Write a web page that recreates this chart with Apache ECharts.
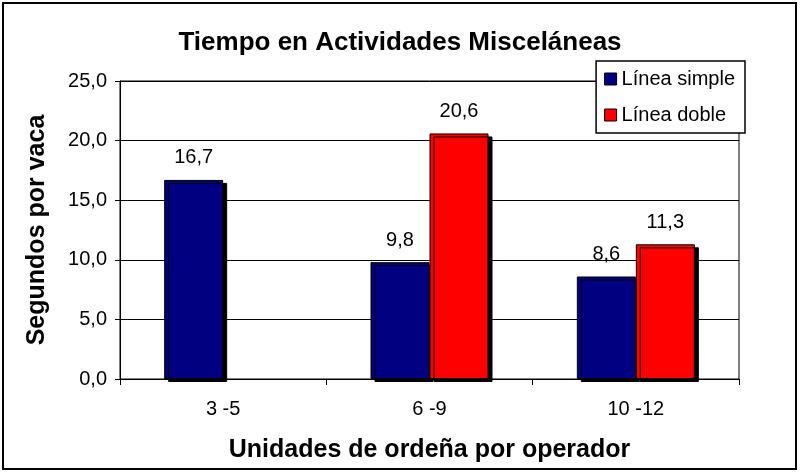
<!DOCTYPE html>
<html>
<head>
<meta charset="utf-8">
<script src="https://cdn.jsdelivr.net/npm/echarts@6/dist/echarts.min.js"></script>
<style>
  html, body { margin: 0; padding: 0; background: #fff; }
  #main { width: 800px; height: 474px; }
</style>
</head>
<body>
<div id="main"></div>
<script type="text/javascript">
// datos del grafico
var categorias = ['3 -5', '6 -9', '10 -12'];
var lineaSimple = [16.7, 9.8, 8.6];
var lineaDoble = [null, 20.6, 11.3];
var nombresSeries = ['Línea simple', 'Línea doble'];
var yTicks = { min: 0, max: 25, interval: 5 };

var fuente = 'Liberation Sans, Arial, sans-serif';

function coma(v) {
  return Number(v).toFixed(1).replace('.', ',');
}

function serieBarra(nombre, datos, color) {
  return {
    name: nombre,
    type: 'bar',
    data: datos,
    barWidth: 59,
    barGap: '0%',
    itemStyle: {
      color: color,
      borderColor: '#000',
      borderWidth: 1,
      shadowColor: '#000',
      shadowBlur: 0,
      shadowOffsetX: 4,
      shadowOffsetY: 3
    },
    label: {
      show: true,
      position: 'top',
      distance: 12,
      color: '#000',
      fontFamily: fuente,
      fontSize: 20,
      formatter: function (p) { return coma(p.value); }
    }
  };
}

var chart = echarts.init(document.getElementById('main'));

var option = {
  backgroundColor: '#fff',
  animation: false,
  title: {
    text: 'Tiempo en Actividades Misceláneas',
    left: 'center',
    top: 25,
    textStyle: { fontFamily: fuente, fontSize: 26, fontWeight: 'bold', color: '#000' }
  },
  legend: {
    orient: 'vertical',
    right: 55,
    top: 61,
    data: nombresSeries,
    backgroundColor: '#fff',
    borderColor: '#000',
    borderWidth: 1.5,
    borderRadius: 0,
    padding: [8, 10, 8, 8],
    itemWidth: 12,
    itemHeight: 12,
    itemGap: 16,
    icon: 'rect',
    itemStyle: { borderColor: '#000', borderWidth: 1, shadowBlur: 0, shadowOffsetX: 0, shadowOffsetY: 0 },
    textStyle: { fontFamily: fuente, fontSize: 20, color: '#000', lineHeight: 20 }
  },
  grid: {
    left: 120,
    right: 61,
    top: 81,
    bottom: 95,
    show: true,
    backgroundColor: '#fff',
    borderColor: '#000',
    borderWidth: 1
  },
  xAxis: {
    type: 'category',
    data: categorias,
    name: 'Unidades de ordeña por operador',
    nameLocation: 'middle',
    nameGap: 59,
    nameTextStyle: { fontFamily: fuente, fontSize: 25, fontWeight: 'bold', color: '#000' },
    axisLine: { lineStyle: { color: '#000', width: 1 } },
    axisTick: { show: true, length: 6, lineStyle: { color: '#000' } },
    axisLabel: { margin: 20, color: '#000', fontFamily: fuente, fontSize: 20 }
  },
  yAxis: {
    type: 'value',
    min: yTicks.min,
    max: yTicks.max,
    interval: yTicks.interval,
    name: 'Segundos por vaca',
    nameLocation: 'middle',
    nameGap: 70,
    nameTextStyle: { fontFamily: fuente, fontSize: 25, fontWeight: 'bold', color: '#000' },
    axisLine: { show: true, lineStyle: { color: '#000', width: 1 } },
    axisTick: { show: true, length: 5, lineStyle: { color: '#000' } },
    splitLine: { lineStyle: { color: '#000', width: 1 } },
    axisLabel: { margin: 13, color: '#000', fontFamily: fuente, fontSize: 20, formatter: coma }
  },
  graphic: [{
    type: 'rect',
    z: -1,
    shape: { x: 3, y: 3, width: 793, height: 466 },
    style: { fill: null, stroke: '#000', lineWidth: 2 }
  }],
  series: [
    serieBarra(nombresSeries[0], lineaSimple, '#000080'),
    serieBarra(nombresSeries[1], lineaDoble, '#ff0000')
  ]
};

chart.setOption(option);
</script>
</body>
</html>
